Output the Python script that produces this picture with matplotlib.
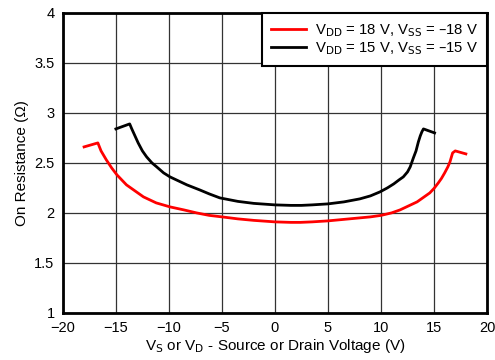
import numpy as np
import matplotlib
matplotlib.use("Agg")
import matplotlib.pyplot as plt

plt.rcParams['font.family'] = ['Liberation Sans', 'DejaVu Sans']

vs_18 = [-18.0, -16.7, -16.4, -15.9, -15.4, -14.9, -14.0, -13.2, -12.4, -11.2,
         -9.9, -8.6, -7.4, -6.2, -5.0, -3.5, -2.0, 0.0, 1.5, 2.4, 3.5, 5.0,
         6.5, 8.0, 9.0, 10.0, 11.0, 11.8, 12.6, 13.4, 14.0, 14.6, 15.0, 15.4,
         15.7, 16.0, 16.3, 16.5, 16.75, 17.0, 18.0]
ron_18 = [2.66, 2.70, 2.62, 2.53, 2.45, 2.38, 2.28, 2.22, 2.16, 2.10,
          2.06, 2.03, 2.00, 1.975, 1.96, 1.94, 1.925, 1.91, 1.905, 1.905, 1.91, 1.92,
          1.935, 1.95, 1.96, 1.975, 2.00, 2.03, 2.07, 2.11, 2.155, 2.20, 2.245, 2.30,
          2.345, 2.40, 2.46, 2.51, 2.60, 2.62, 2.59]

vs_15 = [-15.0, -13.7, -13.5, -13.2, -12.9, -12.5, -12.1, -11.6, -11.15, -10.5, -9.9,
         -9.1, -8.3, -7.1, -6.2, -5.2, -3.5, -2.0, 0.0, 1.5, 2.5, 3.5, 5.0,
         6.5, 8.0, 9.0, 9.9, 10.6, 11.2, 11.7, 12.1, 12.5, 12.75, 13.05, 13.3,
         13.52, 13.7, 13.85, 14.0, 15.05]
ron_15 = [2.84, 2.89, 2.84, 2.77, 2.70, 2.62, 2.56, 2.50, 2.46, 2.40, 2.36,
          2.32, 2.28, 2.23, 2.19, 2.15, 2.115, 2.095, 2.08, 2.075, 2.075, 2.08, 2.09,
          2.11, 2.14, 2.17, 2.21, 2.25, 2.29, 2.33, 2.36, 2.41, 2.46, 2.55, 2.62,
          2.71, 2.77, 2.81, 2.84, 2.80]

labels = [r"V$_{\mathrm{DD}}$ = 18 V, V$_{\mathrm{SS}}$ = –18 V",
          r"V$_{\mathrm{DD}}$ = 15 V, V$_{\mathrm{SS}}$ = –15 V"]

fig = plt.figure(figsize=(4.95, 3.6), dpi=100)
ax = fig.add_axes([0.127, 0.131, 0.857, 0.833])

ax.plot(vs_18, ron_18, color="#FF0000", linewidth=2, label=labels[0])
ax.plot(vs_15, ron_15, color="black", linewidth=2, label=labels[1])

ax.set_xlim(-20, 20)
ax.set_ylim(1, 4)
ax.set_xticks(np.arange(-20, 21, 5))
ax.set_yticks(np.arange(1, 4.01, 0.5))
ax.set_yticklabels(["1", "1.5", "2", "2.5", "3", "3.5", "4"])
ax.grid(True, color="#333333", linewidth=0.9)
ax.tick_params(length=0, labelsize=10.5, pad=6)
for s in ax.spines.values():
    s.set_linewidth(2)

ax.set_xlabel(r"V$_{\mathrm{S}}$ or V$_{\mathrm{D}}$ - Source or Drain Voltage (V)",
              fontsize=11, labelpad=1)
ax.set_ylabel("On Resistance (Ω)", fontsize=11, labelpad=4)

leg = ax.legend(loc="upper right", fontsize=10.7, fancybox=False, framealpha=1,
                edgecolor="black", borderaxespad=0, handlelength=2.4,
                labelspacing=0.1, borderpad=0.6, handletextpad=0.6)
leg.get_frame().set_linewidth(1.5)

fig.savefig("out.png", dpi=100)
